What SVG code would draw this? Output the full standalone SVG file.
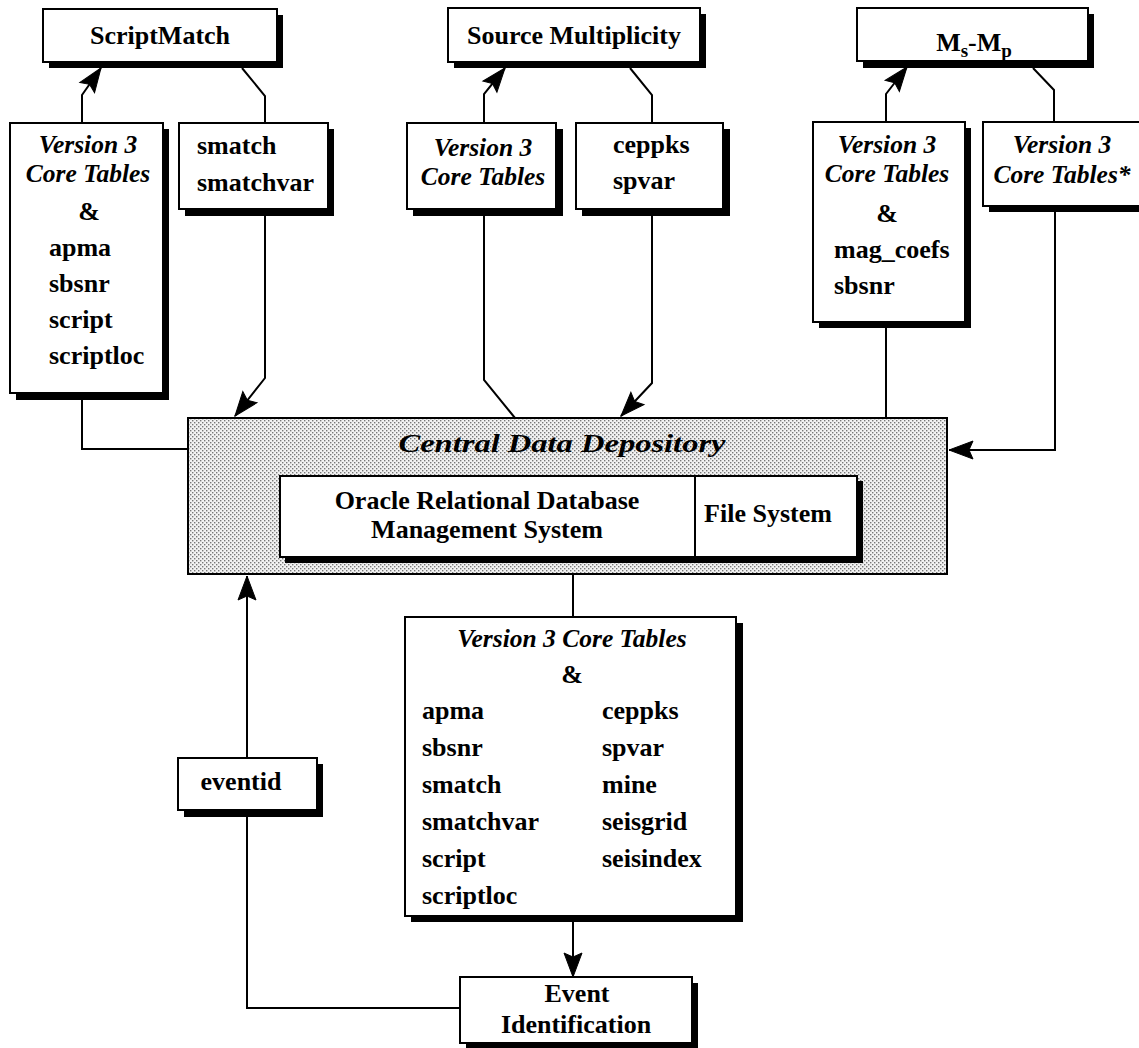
<svg xmlns="http://www.w3.org/2000/svg" width="1139" height="1048" viewBox="0 0 1139 1048">
<style>
text{font-family:'Liberation Serif','Times New Roman',serif;font-size:26px;font-weight:bold;fill:#000}
.i{font-style:italic;font-size:25.5px}
.m{text-anchor:middle}
.box{fill:#fff;stroke:#000;stroke-width:2}
.sh{fill:#000}
.ln{fill:none;stroke:#000;stroke-width:2}
</style>
<defs>
<pattern id="dots" width="4" height="4" patternUnits="userSpaceOnUse">
<rect width="4" height="4" fill="#f2f2f2"/>
<rect x="0" y="0" width="1.4" height="1.4" fill="#777"/>
<rect x="2" y="2" width="1.4" height="1.4" fill="#777"/>
</pattern>
<marker id="arr" viewBox="0 0 28 22" refX="26" refY="11" markerWidth="28" markerHeight="22" markerUnits="userSpaceOnUse" orient="auto">
<path d="M26,11 L2,2 L6,11 L2,20 Z" fill="#000" stroke="#000" stroke-width="1"/>
</marker>
</defs>
<rect width="1139" height="1048" fill="#fff"/>

<g id="connectors">
<path class="ln" d="M82,123 V95 L101,68" marker-end="url(#arr)"/>
<path class="ln" d="M242,68 L265,96 V123"/>
<path class="ln" d="M265,216 V378 L235,416" marker-end="url(#arr)"/>
<path class="ln" d="M82,400 V449 H188"/>
<path class="ln" d="M484,123 V94 L505,68" marker-end="url(#arr)"/>
<path class="ln" d="M630,68 L652,95 V123"/>
<path class="ln" d="M652,216 V383 L621,416" marker-end="url(#arr)"/>
<path class="ln" d="M484,216 V380 L515,418"/>
<path class="ln" d="M886,122 V94 L907,67" marker-end="url(#arr)"/>
<path class="ln" d="M1033,68 L1054,90 V123"/>
<path class="ln" d="M886,327 V418"/>
<path class="ln" d="M1055,211 V450 H949" marker-end="url(#arr)"/>
<path class="ln" d="M573,574 V617"/>
<path class="ln" d="M573,922 V977" marker-end="url(#arr)"/>
<path class="ln" d="M460,1008 H247 V817"/>
<path class="ln" d="M247,758 V576" marker-end="url(#arr)"/>
</g>

<g id="scriptmatch">
<rect class="sh" x="49" y="15" width="234" height="53"/>
<rect class="box" x="43" y="9" width="234" height="53"/>
<text class="m" x="160" y="44">ScriptMatch</text>
</g>

<g id="source-multiplicity">
<rect class="sh" x="454" y="14" width="252" height="54"/>
<rect class="box" x="448" y="8" width="252" height="54"/>
<text class="m" x="574" y="44">Source Multiplicity</text>
</g>

<g id="ms-mp">
<rect class="sh" x="863" y="14" width="231" height="54"/>
<rect class="box" x="857" y="8" width="231" height="53"/>
<text class="m" x="974" y="51">M<tspan font-size="19" dy="6">s</tspan><tspan dy="-6">-M</tspan><tspan font-size="19" dy="6">p</tspan></text>
</g>

<g id="v3-scriptmatch">
<rect class="sh" x="16" y="129" width="153" height="271"/>
<rect class="box" x="10" y="123" width="153" height="270"/>
<text class="i m" x="88" y="153">Version 3</text>
<text class="i m" x="88" y="182">Core Tables</text>
<text class="m" x="89" y="220">&amp;</text>
<text x="49" y="256">apma</text>
<text x="49" y="292">sbsnr</text>
<text x="49" y="328">script</text>
<text x="49" y="364">scriptloc</text>
</g>

<g id="smatch">
<rect class="sh" x="185" y="129" width="149" height="87"/>
<rect class="box" x="179" y="123" width="149" height="86"/>
<text x="197" y="154">smatch</text>
<text x="197" y="191">smatchvar</text>
</g>

<g id="v3-source">
<rect class="sh" x="413" y="129" width="150" height="87"/>
<rect class="box" x="407" y="123" width="149" height="86"/>
<text class="i m" x="483" y="156">Version 3</text>
<text class="i m" x="483" y="185">Core Tables</text>
</g>

<g id="ceppks">
<rect class="sh" x="582" y="129" width="148" height="87"/>
<rect class="box" x="576" y="123" width="147" height="86"/>
<text x="613" y="153">ceppks</text>
<text x="613" y="189">spvar</text>
</g>

<g id="v3-magcoefs">
<rect class="sh" x="819" y="128" width="152" height="200"/>
<rect class="box" x="813" y="122" width="152" height="200"/>
<text class="i m" x="887" y="153">Version 3</text>
<text class="i m" x="887" y="182">Core Tables</text>
<text class="m" x="887" y="222">&amp;</text>
<text x="834" y="258">mag_coefs</text>
<text x="834" y="294">sbsnr</text>
</g>

<g id="v3-star">
<rect class="sh" x="989" y="128" width="158" height="84"/>
<rect class="box" x="983" y="122" width="158" height="84"/>
<text class="i m" x="1062" y="153">Version 3</text>
<text class="i m" x="1062" y="183">Core Tables*</text>
</g>

<g id="central-data-depository">
<rect x="188" y="418" width="759" height="156" fill="url(#dots)" stroke="#000" stroke-width="2"/>
<text class="i m" x="562" y="452" font-size="27" textLength="327" lengthAdjust="spacingAndGlyphs">Central Data Depository</text>
<rect class="sh" x="285" y="481" width="578" height="82"/>
<rect class="box" x="280" y="476" width="577" height="81"/>
<line class="ln" x1="695" y1="476" x2="695" y2="557"/>
<text class="m" x="487" y="509">Oracle Relational Database</text>
<text class="m" x="487" y="538">Management System</text>
<text class="m" x="768" y="522">File System</text>
</g>

<g id="v3-all">
<rect class="sh" x="411" y="623" width="332" height="299"/>
<rect class="box" x="405" y="617" width="331" height="299"/>
<text class="i m" x="572" y="647">Version 3 Core Tables</text>
<text class="m" x="572" y="683">&amp;</text>
<text x="422" y="719">apma</text>
<text x="422" y="756">sbsnr</text>
<text x="422" y="793">smatch</text>
<text x="422" y="830">smatchvar</text>
<text x="422" y="867">script</text>
<text x="422" y="904">scriptloc</text>
<text x="602" y="719">ceppks</text>
<text x="602" y="756">spvar</text>
<text x="602" y="793">mine</text>
<text x="602" y="830">seisgrid</text>
<text x="602" y="867">seisindex</text>
</g>

<g id="eventid">
<rect class="sh" x="184" y="764" width="139" height="53"/>
<rect class="box" x="178" y="758" width="139" height="52"/>
<text class="m" x="241" y="790">eventid</text>
</g>

<g id="event-identification">
<rect class="sh" x="466" y="983" width="232" height="66"/>
<rect class="box" x="460" y="977" width="232" height="66"/>
<text class="m" x="577" y="1002">Event</text>
<text class="m" x="576" y="1033">Identification</text>
</g>
</svg>
